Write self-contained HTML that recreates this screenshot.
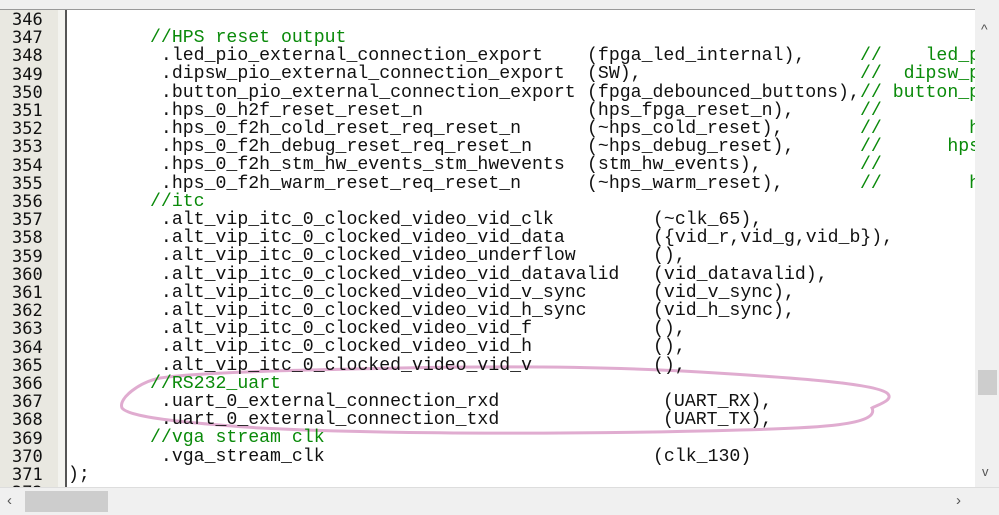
<!DOCTYPE html>
<html><head><meta charset="utf-8"><style>
body{margin:0;width:999px;height:514px;overflow:hidden;background:#f0f0f0;position:relative;font-family:"Liberation Mono",monospace}
#tb{position:absolute;left:0;top:0;width:999px;height:9px;background:#f0f0f0}
#ed{position:absolute;left:0;top:9px;width:975px;height:478px;background:#fff;border-top:1px solid #999;overflow:hidden}
#gut{position:absolute;left:0;top:0;width:58px;height:478px;background:#e9e8e1}
#gut2{position:absolute;left:58px;top:0;width:7px;height:478px;background:#f3f3ef}
#gl{position:absolute;left:65px;top:0;width:2px;height:478px;background:#555}
.n{position:absolute;left:12px;font-family:"DejaVu Sans Mono",monospace;font-size:17px;color:#111;line-height:18.2px}
.t{position:absolute;font-size:18.2px;line-height:18.2px;color:#111;white-space:pre}
.c{color:#0a8a0a}
#vs{position:absolute;left:975px;top:9px;width:24px;height:478px;background:#f0f0f0}
#hs{position:absolute;left:0;top:487px;width:999px;height:27px;background:#f0f0f0;border-top:1px solid #ddd}
</style></head><body>
<div id="tb"></div>
<div id="ed">
<div id="gut"></div><div id="gut2"></div><div id="gl"></div>
</div>
<div id="vs"><div style="position:absolute;left:3px;top:361px;width:19px;height:25px;background:#cdcdcd"></div>
<div style="position:absolute;left:6px;top:12px;font-size:14px;color:#555;font-family:'Liberation Sans'">^</div>
<div style="position:absolute;left:7px;top:455px;font-size:13px;color:#555;font-family:'Liberation Sans'">v</div></div>
<div id="hs"><div style="position:absolute;left:25px;top:3px;width:83px;height:21px;background:#cdcdcd"></div>
<div style="position:absolute;left:7px;top:4px;font-size:15px;color:#555;font-family:'Liberation Sans'">&lsaquo;</div>
<div style="position:absolute;left:956px;top:4px;font-size:15px;color:#555;font-family:'Liberation Sans'">&rsaquo;</div></div>
<svg style="position:absolute;left:0;top:0" width="999" height="514">
<path d="M160,378 C140,382 118,398 122,408 C128,416 170,422 260,428 C400,435 600,434 740,430 C820,428 880,425 872,408 C880,404 893,400 888,394 C880,384 800,378 700,372 C600,366 500,366 400,368 C300,370 200,372 160,378" fill="none" stroke="#d690c0" stroke-width="3" opacity="0.75"/>
</svg>
<div style="position:absolute;left:0;top:10px;width:975px;height:477px;overflow:hidden">
<div class="n" style="top:1px">346<br>347<br>348<br>349<br>350<br>351<br>352<br>353<br>354<br>355<br>356<br>357<br>358<br>359<br>360<br>361<br>362<br>363<br>364<br>365<br>366<br>367<br>368<br>369<br>370<br>371<br>372</div>
<div class="t" style="left:150px;top:19px"><span class="c">//HPS reset output</span>
 .led_pio_external_connection_export
 .dipsw_pio_external_connection_export
 .button_pio_external_connection_export
 .hps_0_h2f_reset_reset_n
 .hps_0_f2h_cold_reset_req_reset_n
 .hps_0_f2h_debug_reset_req_reset_n
 .hps_0_f2h_stm_hw_events_stm_hwevents
 .hps_0_f2h_warm_reset_req_reset_n
<span class="c">//itc</span>
 .alt_vip_itc_0_clocked_video_vid_clk
 .alt_vip_itc_0_clocked_video_vid_data
 .alt_vip_itc_0_clocked_video_underflow
 .alt_vip_itc_0_clocked_video_vid_datavalid
 .alt_vip_itc_0_clocked_video_vid_v_sync
 .alt_vip_itc_0_clocked_video_vid_h_sync
 .alt_vip_itc_0_clocked_video_vid_f
 .alt_vip_itc_0_clocked_video_vid_h
 .alt_vip_itc_0_clocked_video_vid_v
<span class="c">//RS232_uart</span>
 .uart_0_external_connection_rxd
 .uart_0_external_connection_txd
<span class="c">//vga stream clk</span>
 .vga_stream_clk</div>
<div class="t" style="left:68px;top:455.8px">);</div>
<div class="t" style="left:587px;top:37.2px">(fpga_led_internal),
(SW),
(fpga_debounced_buttons),
(hps_fpga_reset_n),
(~hps_cold_reset),
(~hps_debug_reset),
(stm_hw_events),
(~hps_warm_reset),</div>
<div class="t c" style="left:860px;top:37.2px">//    led_p
//  dipsw_p
// button_p
//
//        hp
//      hps
//         h
//        hp</div>
<div class="t" style="left:653px;top:201px">(~clk_65),
({vid_r,vid_g,vid_b}),
(),
(vid_datavalid),
(vid_v_sync),
(vid_h_sync),
(),
(),
(),</div>
<div class="t" style="left:663px;top:383px">(UART_RX),
(UART_TX),</div>
<div class="t" style="left:653px;top:437.6px">(clk_130)</div>
</div>
</body></html>
